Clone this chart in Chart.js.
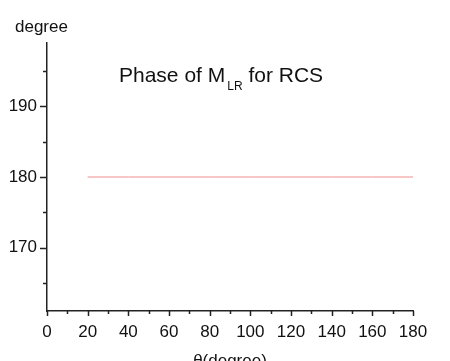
<!DOCTYPE html>
<html>
<head>
<meta charset="utf-8">
<script src="https://cdn.jsdelivr.net/npm/chart.js@4"></script>
<style>
  html, body { margin: 0; padding: 0; background: #fff; }
  #wrap { width: 450px; height: 361px; position: relative; }
</style>
</head>
<body>
<div id="wrap"><canvas id="phase-chart" width="450" height="361"></canvas></div>
<script>
// ---- データ ----
const thetaValues = [20, 40, 60, 80, 100, 120, 140, 160, 180];
const phaseValues = [180, 180, 180, 180, 180, 180, 180, 180, 180];

const xMajorTicks = [0, 20, 40, 60, 80, 100, 120, 140, 160, 180];
const xMinorTicks = [10, 30, 50, 70, 90, 110, 130, 150, 170];
const yMajorTicks = [170, 180, 190];
const yMinorTicks = [165, 175, 185, 195];

const FONT = "'Liberation Sans', Arial, sans-serif";

// 軸目盛り・テキストを描く
const decorPlugin = {
    id: 'decor',
    afterDraw(chart) {
        const ctx = chart.ctx;
        const xs = chart.scales.x;
        const ys = chart.scales.y;
        const area = chart.chartArea;
        ctx.save();
        ctx.strokeStyle = '#222';
        ctx.lineWidth = 1.5;
        ctx.beginPath();
        yMajorTicks.forEach(v => {
            const y = Math.round(ys.getPixelForValue(v)) + 0.5;
            ctx.moveTo(area.left - 7, y);
            ctx.lineTo(area.left, y);
        });
        yMinorTicks.forEach(v => {
            const y = Math.round(ys.getPixelForValue(v)) + 0.5;
            ctx.moveTo(area.left - 4, y);
            ctx.lineTo(area.left, y);
        });
        xMajorTicks.forEach(v => {
            const x = Math.round(xs.getPixelForValue(v)) + 0.5;
            ctx.moveTo(x, area.bottom);
            ctx.lineTo(x, area.bottom + 5);
        });
        xMinorTicks.forEach(v => {
            const x = Math.round(xs.getPixelForValue(v)) + 0.5;
            ctx.moveTo(x, area.bottom);
            ctx.lineTo(x, area.bottom + 3);
        });
        ctx.stroke();

        ctx.fillStyle = '#111';
        ctx.textBaseline = 'alphabetic';
        ctx.textAlign = 'left';
        ctx.font = `17px ${FONT}`;
        ctx.fillText('degree', 15, 32);

        ctx.textAlign = 'center';
        ctx.font = `17px ${FONT}`;
        ctx.fillText('θ(degree)', (area.left + area.right) / 2, 366);

        // タイトル (下付き文字つき)
        ctx.textAlign = 'left';
        let tx = 119;
        const base = 82;
        ctx.font = `21px ${FONT}`;
        ctx.fillText('Phase of M', tx, base);
        tx += ctx.measureText('Phase of M').width + 2;
        ctx.font = `12px ${FONT}`;
        ctx.fillText('LR', tx, base + 8);
        tx += ctx.measureText('LR').width;
        ctx.font = `21px ${FONT}`;
        ctx.fillText(' for RCS', tx, base);
        ctx.restore();
    }
};

new Chart(document.getElementById('phase-chart'), {
    type: 'line',
    data: {
        datasets: [{
            data: thetaValues.map((t, i) => ({ x: t, y: phaseValues[i] })),
            borderColor: '#ef8e8e',
            borderWidth: 1,
            pointRadius: 0,
            tension: 0,
        }],
    },
    options: {
        responsive: false,
        animation: false,
        layout: { padding: { left: 0, top: 43, right: 37, bottom: 0 } },
        plugins: {
            legend: { display: false },
            tooltip: { enabled: false },
        },
        scales: {
            x: {
                type: 'linear',
                min: 0,
                max: 180,
                afterBuildTicks: s => { s.ticks = xMajorTicks.map(v => ({ value: v })); },
                afterFit: s => { s.height = 50; },
                grid: { display: false, drawTicks: false },
                border: { display: true, color: '#222', width: 1.5 },
                ticks: {
                    padding: 11,
                    maxRotation: 0,
                    autoSkip: false,
                    color: '#111',
                    font: { family: FONT, size: 17 },
                },
            },
            y: {
                type: 'linear',
                min: 161,
                max: 199,
                afterBuildTicks: s => { s.ticks = yMajorTicks.map(v => ({ value: v })); },
                afterFit: s => { s.width = 47; },
                grid: { display: false, drawTicks: false },
                border: { display: true, color: '#222', width: 1.5 },
                ticks: {
                    padding: 10,
                    color: '#111',
                    font: { family: FONT, size: 17 },
                },
            },
        },
    },
    plugins: [decorPlugin],
});
</script>
</body>
</html>
